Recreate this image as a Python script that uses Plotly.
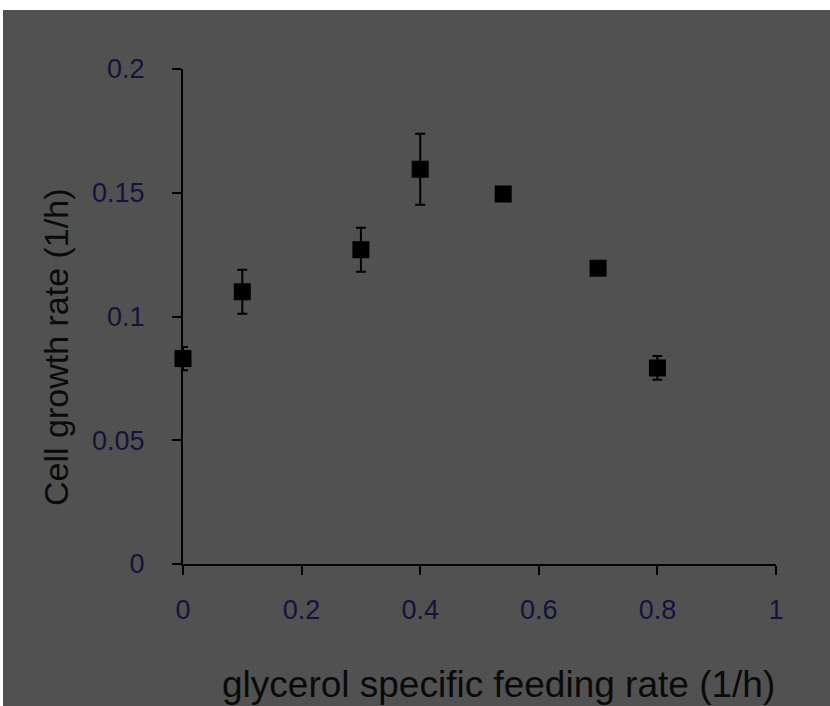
import plotly.graph_objects as go

# Glycerol specific feeding rate (1/h) vs. cell growth rate (1/h)
feed_rate = [0.0, 0.1, 0.3, 0.4, 0.54, 0.7, 0.8]
growth_rate = [0.083, 0.110, 0.127, 0.1595, 0.1495, 0.1195, 0.0792]
growth_err = [0.0047, 0.0089, 0.0089, 0.0143, 0.0, 0.0, 0.0048]

x_ticks = [0, 0.2, 0.4, 0.6, 0.8, 1]
x_tick_text = ["0", "0.2", "0.4", "0.6", "0.8", "1"]
y_ticks = [0, 0.05, 0.1, 0.15, 0.2]
y_tick_text = ["0", "0.05", "0.1", "0.15", "0.2"]

W, H = 830, 706
ML, MR, MT, MB = 183, 54, 69, 142
PW, PH = W - ML - MR, H - MT - MB

BG = "#515151"
INK = "#0a0a0a"
TICK_INK = "#14143a"
tick_font = dict(family="Liberation Sans, Arial", size=27, color=TICK_INK)
title_font = dict(family="Liberation Sans, Arial", color=INK)

fig = go.Figure()
fig.add_trace(go.Scatter(
    x=feed_rate, y=growth_rate, mode="markers",
    marker=dict(symbol="square", size=17, color="black", line=dict(width=0)),
    error_y=dict(type="data", array=growth_err, visible=True,
                 color="black", thickness=2, width=5),
    showlegend=False, cliponaxis=False,
))

def px_x(p):
    return (p - ML) / PW

def px_y(p):
    return (H - MB - p) / PH

# grey panel leaving a thin white strip along the top and left edges
fig.add_shape(type="rect", xref="paper", yref="paper",
              x0=px_x(3), x1=px_x(W + 2), y0=px_y(H + 2), y1=px_y(10),
              fillcolor=BG, line=dict(width=0), layer="below")

fig.add_annotation(text="glycerol specific feeding rate (1/h)",
                   xref="paper", yref="paper", x=px_x(498), y=px_y(684),
                   showarrow=False, font=dict(size=37, **title_font),
                   xanchor="center", yanchor="middle")
fig.add_annotation(text="Cell growth rate (1/h)", textangle=-90,
                   xref="paper", yref="paper", x=px_x(56), y=px_y(348),
                   showarrow=False, font=dict(size=34, **title_font),
                   xanchor="center", yanchor="middle")

axis_common = dict(showgrid=False, zeroline=False, showline=True,
                   linecolor="black", linewidth=2, ticks="outside",
                   ticklen=9, tickwidth=2, tickcolor="black",
                   tickfont=tick_font)

fig.update_xaxes(range=[0, 1], tickvals=x_ticks, ticktext=x_tick_text,
                 ticklabelstandoff=12, **axis_common)
fig.update_yaxes(range=[0, 0.2], tickvals=y_ticks, ticktext=y_tick_text,
                 ticklabelstandoff=22, **axis_common)

fig.update_layout(
    width=W, height=H,
    margin=dict(l=ML, r=MR, t=MT, b=MB, pad=0),
    paper_bgcolor="white", plot_bgcolor="rgba(0,0,0,0)",
)

fig.write_html("out.html")
